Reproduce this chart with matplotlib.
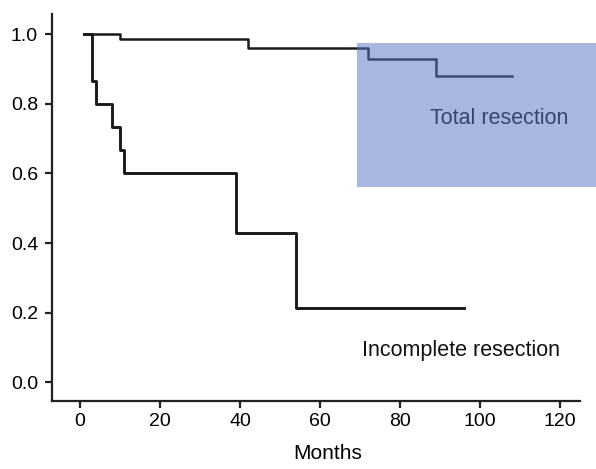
import matplotlib
matplotlib.use("Agg")
import matplotlib.pyplot as plt
from matplotlib.patches import Rectangle

plt.rcParams['font.family'] = ['Liberation Sans', 'DejaVu Sans']

# Kaplan-Meier curves
total_months = [1, 10, 42, 72, 89, 108]
total_surv = [1.0, 0.986, 0.961, 0.929, 0.881, 0.881]

incomplete_months = [1, 3, 4, 8, 10, 11, 39, 54, 96]
incomplete_surv = [1.0, 0.867, 0.8, 0.733, 0.667, 0.6, 0.429, 0.214, 0.214]

xticks = [0, 20, 40, 60, 80, 100, 120]
yticks = [0.0, 0.2, 0.4, 0.6, 0.8, 1.0]

fig = plt.figure(figsize=(5.96, 4.69), dpi=100)
ax = fig.add_axes([0.0872, 0.145, 0.886, 0.825])

ax.plot(total_months, total_surv, drawstyle='steps-post', color='#1a1a1a', lw=1.8, zorder=2)
ax.plot(incomplete_months, incomplete_surv, drawstyle='steps-post', color='#1a1a1a', lw=2.1, zorder=2)

ax.text(87.5, 0.757, 'Total resection', fontsize=15.5, va='center', ha='left', color='#111111', zorder=1)
ax.text(70.5, 0.091, 'Incomplete resection', fontsize=15.5, va='center', ha='left', color='#111111')

# translucent blue box over the total-resection label
box = Rectangle((69.25, 0.562), 59.75, 0.412, facecolor='#5876c4', alpha=0.52,
                edgecolor='none', clip_on=False, zorder=3)
ax.add_patch(box)

ax.set_xlim(-7, 125)
ax.set_ylim(-0.054, 1.058)
ax.set_xticks(xticks)
ax.set_yticks(yticks)
ax.set_yticklabels([f"{v:.1f}" for v in yticks])
ax.tick_params(axis='both', labelsize=14, length=5, width=1.6, color='#222222')
ax.tick_params(axis='x', pad=4)
ax.tick_params(axis='y', pad=5)

for s in ['top', 'right']:
    ax.spines[s].set_visible(False)
for s in ['left', 'bottom']:
    ax.spines[s].set_linewidth(1.6)
    ax.spines[s].set_color('#222222')

fig.text(328 / 596, 1 - 453 / 469, 'Months', fontsize=15, ha='center', va='center')

fig.savefig('out.png', dpi=100)
